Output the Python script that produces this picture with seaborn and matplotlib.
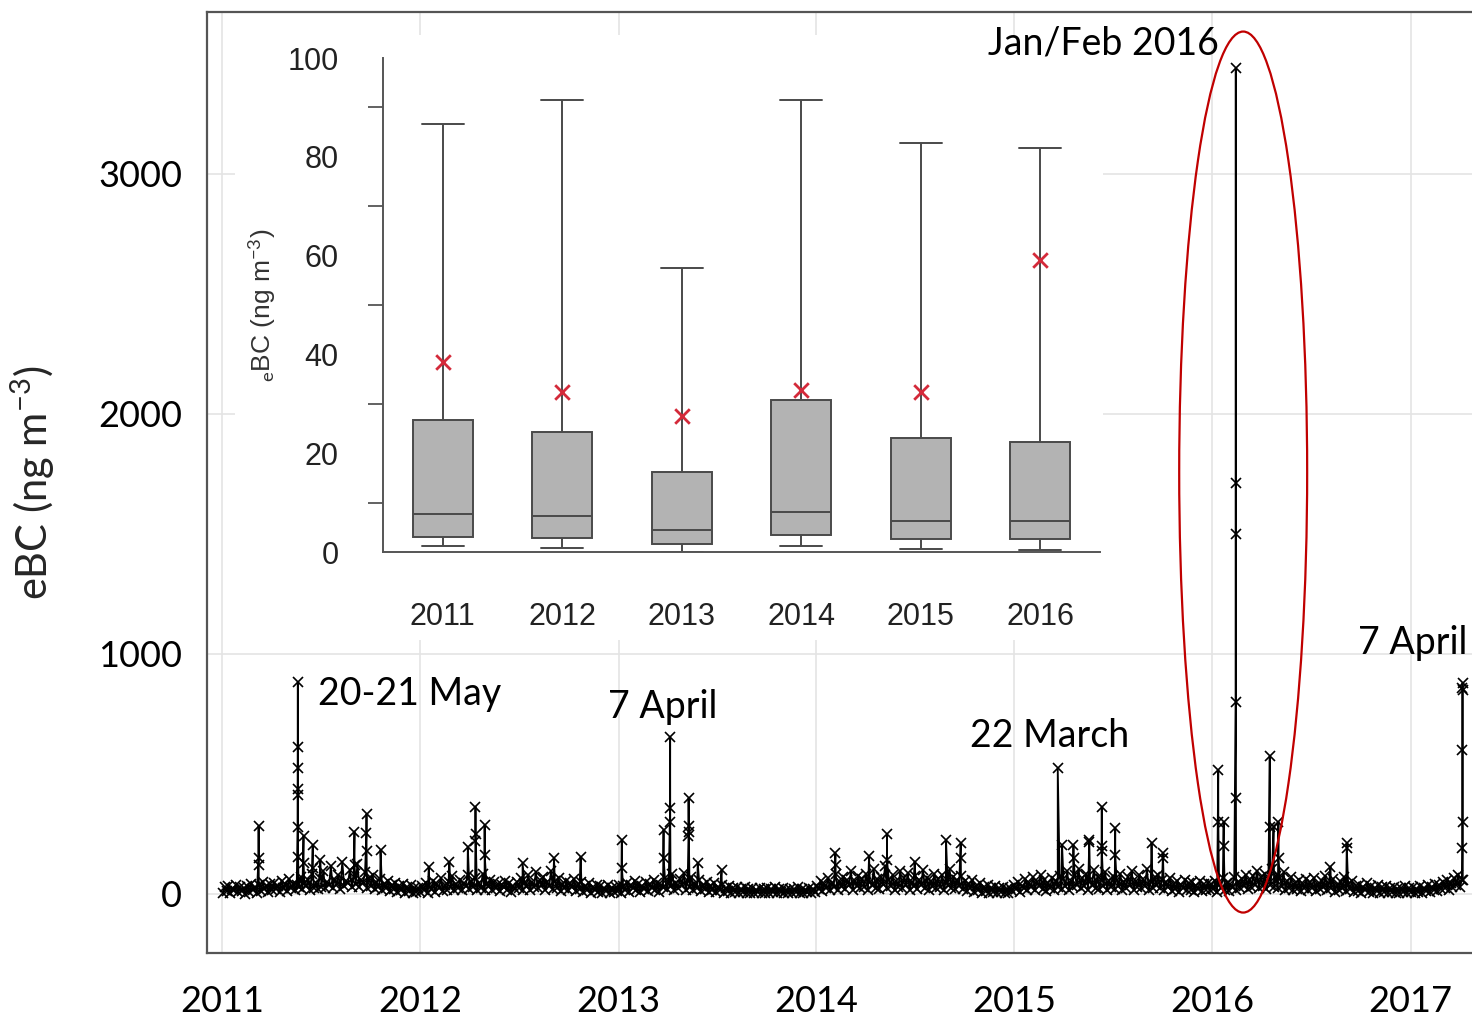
import numpy as np
import pandas as pd
import matplotlib
matplotlib.use("Agg")
import matplotlib.pyplot as plt
import matplotlib.dates as mdates
from matplotlib.patches import Ellipse, Rectangle
from matplotlib.ticker import MultipleLocator
import seaborn as sns

# ------------------------------------------------------------------ data
# background eBC values (ng m-3), one every 3.5 days starting 2011-01-02
base_start = "2011-01-02"
base_2011 = [5, 28, 12, 35, 2, 22, 15, 38, 8, 30, 14, 25, 0, 32, 10, 40, 18, 28, 6, 36, 12, 48, 20, 32, 8, 40,
             15, 45, 22, 35, 10, 55, 25, 40, 12, 62, 24, 42, 18, 38, 30, 70, 20, 45, 32, 58, 15, 85, 26, 44, 22, 65,
             30, 95, 24, 50, 38, 115, 26, 60, 42, 80, 20, 135, 35, 55, 45, 100, 28, 70, 40, 125, 30, 58, 50, 90, 24, 68,
             35, 80, 20, 48, 30, 62, 15, 42, 26, 55, 12, 38, 22, 45, 8, 35, 18, 40, 6, 30, 12, 36, 4, 26, 10, 24]
base_2012 = [8, 35, 15, 45, 6, 30, 22, 55, 10, 40, 26, 65, 12, 36, 18, 50, 30, 75, 16, 42, 24, 60, 15, 46, 35, 80,
             20, 52, 30, 68, 16, 46, 26, 85, 15, 40, 34, 60, 18, 48, 24, 42, 12, 38, 30, 55, 16, 44, 10, 34, 20, 50,
             26, 65, 15, 46, 34, 80, 18, 50, 30, 90, 24, 58, 38, 72, 16, 48, 32, 95, 20, 55, 26, 68, 12, 42, 24, 52,
             16, 46, 30, 62, 12, 40, 20, 50, 8, 34, 18, 44, 6, 30, 15, 38, 10, 32, 4, 26, 12, 36, 6, 24, 10, 30]
base_2013 = [12, 38, 6, 32, 18, 46, 10, 36, 24, 55, 15, 42, 8, 34, 20, 48, 12, 40, 26, 60, 16, 46, 10, 38, 30, 68,
             20, 50, 34, 82, 16, 46, 26, 64, 38, 88, 18, 52, 30, 72, 15, 42, 24, 58, 12, 38, 20, 50, 10, 34, 16, 44,
             8, 30, 15, 38, 6, 26, 12, 34, 4, 24, 10, 30, 5, 22, 8, 28, 3, 20, 6, 24, 2, 18, 8, 26, 4, 22,
             6, 24, 3, 20, 10, 30, 5, 22, 8, 26, 2, 18, 6, 22, 4, 20, 10, 28, 5, 20, 3, 16, 8, 24, 5, 20]
base_2014 = [10, 34, 20, 55, 12, 42, 26, 68, 16, 46, 30, 82, 15, 50, 34, 72, 20, 60, 38, 95, 18, 55, 32, 76, 24, 64,
             30, 85, 16, 50, 38, 105, 26, 62, 20, 72, 42, 115, 24, 58, 34, 80, 18, 55, 30, 95, 26, 68, 38, 86, 16, 50,
             32, 76, 20, 60, 38, 100, 26, 68, 16, 55, 34, 85, 24, 62, 30, 80, 18, 50, 38, 105, 26, 72, 20, 58, 34, 76,
             20, 55, 12, 42, 26, 58, 8, 34, 16, 46, 6, 30, 12, 38, 4, 26, 10, 34, 5, 24, 8, 30, 3, 22, 6, 26]
base_2015 = [12, 38, 20, 50, 8, 34, 26, 62, 15, 46, 30, 72, 18, 50, 34, 80, 20, 58, 12, 46, 26, 68, 16, 55, 30, 76,
             20, 62, 34, 95, 16, 55, 30, 80, 38, 105, 24, 68, 32, 85, 18, 58, 38, 100, 26, 72, 20, 62, 34, 90, 16, 55,
             30, 76, 20, 58, 34, 85, 15, 50, 26, 72, 38, 95, 18, 55, 30, 80, 24, 62, 34, 105, 16, 50, 26, 72, 38, 80,
             24, 58, 16, 50, 30, 68, 12, 42, 20, 55, 8, 38, 26, 58, 15, 46, 18, 50, 10, 34, 20, 55, 12, 40, 16, 46]
base_2016 = [15, 42, 20, 55, 10, 38, 26, 68, 16, 46, 12, 42, 30, 72, 18, 50, 24, 62, 34, 80, 20, 58, 30, 76, 38, 95,
             26, 72, 34, 85, 20, 62, 38, 105, 30, 76, 24, 68, 34, 90, 18, 55, 26, 72, 15, 46, 20, 58, 12, 42, 24, 62,
             16, 50, 26, 68, 12, 42, 20, 55, 30, 76, 15, 46, 24, 62, 10, 38, 18, 50, 26, 72, 12, 40, 20, 55, 8, 34,
             12, 38, 6, 30, 16, 46, 8, 32, 4, 26, 12, 38, 6, 28, 10, 34, 5, 24, 8, 30, 3, 22, 6, 26, 10, 32]
base_2017 = [5, 24, 8, 30, 3, 22, 10, 32, 6, 26, 12, 36, 8, 30, 16, 42, 12, 38, 20, 50, 26, 60, 16, 46, 30, 68,
             38, 80, 30, 60]

# pollution episodes: start date and successive values (ng m-3)
spike_dates = ["2011-03-09", "2011-05-20", "2011-05-31", "2011-06-17", "2011-07-01",
               "2011-09-02", "2011-09-24", "2011-10-20", "2012-01-17", "2012-02-24",
               "2012-03-29", "2012-04-12", "2012-04-29", "2012-07-08", "2012-09-04",
               "2012-10-23", "2013-01-07", "2013-03-25", "2013-04-06", "2013-05-10",
               "2013-05-27", "2013-07-10", "2014-02-05", "2014-04-08", "2014-05-11",
               "2014-07-01", "2014-08-28", "2014-09-24", "2015-03-22", "2015-03-30",
               "2015-04-20", "2015-05-19", "2015-06-11", "2015-07-06", "2015-09-11",
               "2015-10-02", "2016-01-12", "2016-01-22", "2016-02-13", "2016-04-16",
               "2016-04-23", "2016-05-02", "2016-08-06", "2016-09-05", "2017-04-06"]
spike_values = [[150, 284, 120], [280, 437, 525, 883, 614, 412, 155], [243, 130], [204, 110], [142],
                [260, 120], [253, 333, 180], [183], [114], [134],
                [197], [220, 364, 250], [287, 162], [128], [148],
                [155], [225, 110], [267, 150], [357, 653, 300], [240, 399, 283, 260],
                [130], [100], [169, 120], [158], [249, 140],
                [135], [225], [211, 150], [524], [204],
                [204, 150], [218, 225], [200, 364, 180], [274, 161], [214],
                [169, 150], [517, 300], [301, 200], [800, 1712, 3442, 1500, 400], [575, 280],
                [280], [301, 150], [114], [211, 190], [192, 600, 860, 880, 850, 300, 60]]

main_yticks = [0, 1000, 2000, 3000]
main_xticks = ["2011", "2012", "2013", "2014", "2015", "2016", "2017"]

ann_text = ["20-21 May", "7 April", "22 March", "Jan/Feb 2016", "7 April"]
ann_date = ["2011-06-26", "2012-12-13", "2014-10-12", "2014-11-14", "2016-09-25"]
ann_value = [833, 779, 658, 3542, 1046]

# inset: annual statistics (ng m-3)
years = ["2011", "2012", "2013", "2014", "2015", "2016"]
box_low = [1.2, 0.8, 0.0, 1.2, 0.7, 0.5]
box_q1 = [3.1, 2.9, 1.7, 3.5, 2.7, 2.7]
box_med = [7.7, 7.2, 4.4, 8.0, 6.3, 6.3]
box_q3 = [26.7, 24.2, 16.1, 30.7, 23.0, 22.2]
box_high = [86.7, 91.4, 57.4, 91.4, 82.8, 81.7]
box_mean = [38.5, 32.3, 27.6, 32.7, 32.3, 59.2]

# ------------------------------------------------------------------ frames
base_vals = base_2011 + base_2012 + base_2013 + base_2014 + base_2015 + base_2016 + base_2017
base_df = pd.DataFrame({"date": pd.date_range(base_start, periods=len(base_vals), freq="84h"),
                        "ebc": base_vals})
rows = []
for d, vals in zip(spike_dates, spike_values):
    t0 = pd.Timestamp(d)
    for k, v in enumerate(vals):
        rows.append((t0 + pd.Timedelta(hours=4 * k), v))
spike_df = pd.DataFrame(rows, columns=["date", "ebc"])
ts = pd.concat([base_df, spike_df]).sort_values("date").reset_index(drop=True)

box_df = pd.DataFrame({
    "year": np.repeat(years, 5),
    "val": np.ravel(np.column_stack([box_low, box_q1, box_med, box_q3, box_high])),
})

# ------------------------------------------------------------------ style
sns.set_style("whitegrid")
plt.rcParams["font.family"] = ["Lato", "DejaVu Sans"]
plt.rcParams["mathtext.fontset"] = "custom"
plt.rcParams["mathtext.rm"] = "Lato"
plt.rcParams["mathtext.it"] = "Lato:italic"

W, H = 1472, 1016
fig = plt.figure(figsize=(W / 100, H / 100), dpi=100)
fig.patch.set_facecolor("white")

# main axes
ax = fig.add_axes([207 / W, 1 - 953 / H, 1 - 207 / W, (953 - 12) / H])
ax.set_facecolor("white")
sns.lineplot(data=ts, x="date", y="ebc", ax=ax, color="black", linewidth=1.3,
             marker="x", markersize=7.5, markeredgewidth=1.2, markeredgecolor="black",
             estimator=None, zorder=2)

ax.set_xlim(pd.Timestamp("2010-12-04"), pd.Timestamp("2017-04-24"))
ax.set_ylim(-246, 3675)
ax.set_xticks([pd.Timestamp(y + "-01-01") for y in main_xticks])
ax.set_xticklabels(main_xticks)
ax.set_yticks(main_yticks)
ax.set_yticklabels([str(v) for v in main_yticks])
ax.tick_params(axis="both", labelsize=26, colors="#333333", length=8, width=1.2,
               direction="out", pad=10)
ax.tick_params(axis="x", pad=15)
ax.tick_params(axis="both", labelcolor="black")
ax.grid(True, color="#e4e4e4", linewidth=1.2)
for s in ["left", "bottom", "top"]:
    ax.spines[s].set_color("#555555")
    ax.spines[s].set_linewidth(1.6)
ax.spines["right"].set_visible(False)
ax.set_xlabel("")
ax.set_ylabel(r"eBC (ng m$^{-3}$)", fontsize=30)
ax.yaxis.set_label_coords(-0.1186, 0.5)

# white panel behind inset
ax.add_patch(Rectangle((235 / W, 1 - 640 / H), (1103 - 235) / W, (640 - 35) / H,
                       transform=fig.transFigure, facecolor="white", edgecolor="none",
                       zorder=3, clip_on=False))

for t, d, v in zip(ann_text, ann_date, ann_value):
    ax.text(pd.Timestamp(d), v, t, fontsize=27, ha="left", va="center", zorder=6,
            color="black")

# red ellipse around Jan/Feb 2016 event
ell = Ellipse((mdates.date2num(pd.Timestamp("2016-02-27")), 1758), width=236, height=3671,
              facecolor="none", edgecolor="#c00000", linewidth=1.6, zorder=5)
ax.add_patch(ell)

# inset axes
axi = fig.add_axes([383 / W, 1 - 552 / H, (1100 - 383) / W, (552 - 58) / H], zorder=2)
axi.set_facecolor("none")
sns.boxplot(data=box_df, x="year", y="val", ax=axi, whis=(0, 100), width=0.5,
            color="#b3b3b3", saturation=1, linecolor="#4a4a4a", linewidth=1.4,
            showfliers=False, capwidths=0.35)
axi.scatter(np.arange(len(years)), box_mean, marker="x", s=110, color="#d42a3a",
            linewidths=2.0, zorder=5)
axi.set_xlim(-0.5, 5.5)
axi.set_ylim(0, 100)
axi.grid(False)
axi.yaxis.set_major_locator(MultipleLocator(20))
axi.yaxis.set_minor_locator(MultipleLocator(10))
axi.tick_params(axis="y", which="major", length=20, width=1.3, color="#555555", pad=12)
axi.tick_params(axis="y", which="minor", length=11, width=1.3, color="#555555", left=True)
axi.tick_params(axis="x", length=22, width=1.3, color="#555555", pad=14)
for lbl in axi.get_xticklabels() + axi.get_yticklabels():
    lbl.set_fontfamily(["Liberation Sans", "DejaVu Sans"])
    lbl.set_fontsize(22)
    lbl.set_color("#222222")
for s in ["top", "right"]:
    axi.spines[s].set_visible(False)
for s in ["left", "bottom"]:
    axi.spines[s].set_color("#555555")
    axi.spines[s].set_linewidth(1.4)
axi.set_xlabel("")
axi.set_ylabel(r"$_{\rm e}$BC (ng m$^{-3}$)", fontsize=19,
               fontfamily=["Liberation Sans", "DejaVu Sans"], color="#333333")
axi.yaxis.set_label_coords(-(383 - 278) / (1100 - 383), 0.5)

fig.savefig("out.png", dpi=100, facecolor="white")
